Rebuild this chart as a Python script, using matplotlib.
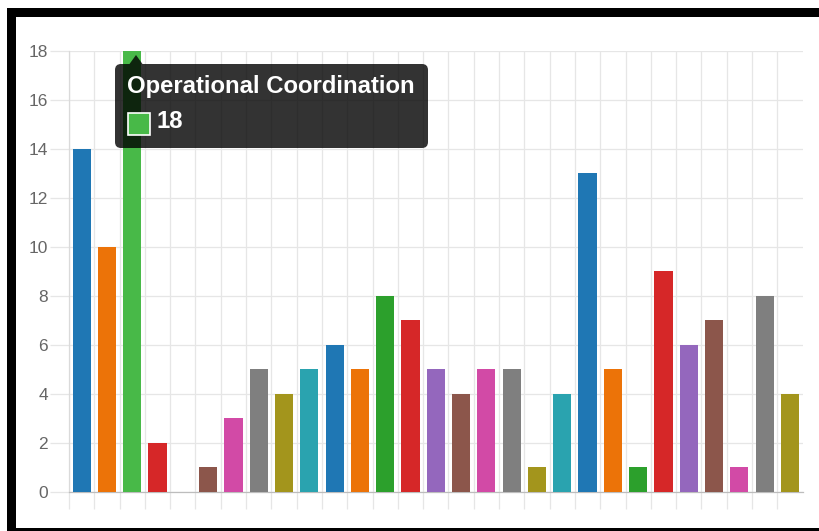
import numpy as np
import matplotlib
matplotlib.use('Agg')
import matplotlib.pyplot as plt
from matplotlib.patches import Rectangle, FancyBboxPatch, Polygon
from matplotlib.transforms import IdentityTransform

plt.rcParams['font.family'] = ['Liberation Sans', 'DejaVu Sans']

# bar values, one per category (the names are not shown on the axis)
values = [14, 10, 18, 2, 0, 1, 3, 5, 4, 5, 6, 5, 8, 7, 5, 4, 5, 5, 1, 4,
          13, 5, 1, 9, 6, 7, 1, 8, 4]
palette = ['#1f77b4', '#ec7308', '#2ca02c', '#d62728', '#9467bd',
           '#8c564b', '#d24aa6', '#7f7f7f', '#a3951c', '#2aa3af']
hover_idx = 2
hover_color = '#48b948'
tooltip_title = 'Operational Coordination'
yticks = [0, 2, 4, 6, 8, 10, 12, 14, 16, 18]

W, H = 819, 531
fig = plt.figure(figsize=(W / 100, H / 100), dpi=100)
fig.patch.set_facecolor('white')

def px(x0, y0, x1, y1):
    # image pixel box (top-left origin) -> figure fraction rect
    return [x0 / W, 1 - y1 / H, (x1 - x0) / W, (y1 - y0) / H]

ax = fig.add_axes(px(69, 50.5, 802.6, 492))

x = np.arange(len(values))
colors = [palette[i % len(palette)] for i in range(len(values))]
colors[hover_idx] = hover_color
ax.bar(x, values, width=0.72, color=colors, zorder=3)

ax.set_xlim(-0.5, len(values) - 0.5)
ax.set_ylim(0, 18)
ax.set_yticks(yticks)
ax.set_xticks(np.arange(len(values)) - 0.5)
ax.set_xticklabels([])

grid_c = '#e6e6e6'
ax.grid(True, color=grid_c, linewidth=0.9, zorder=0)
ax.tick_params(axis='y', length=13.7, width=0.9, color=grid_c, pad=1.5,
               labelsize=12.5, labelcolor='#666666')
ax.tick_params(axis='x', length=12.5, width=0.9, color=grid_c)
for s in ['top', 'right']:
    ax.spines[s].set_visible(False)
ax.spines['left'].set_color('#dadada')
ax.spines['left'].set_linewidth(0.9)
ax.spines['bottom'].set_color('#bdbdbd')
ax.spines['bottom'].set_linewidth(0.9)

# tooltip, drawn in pixel space
ident = IdentityTransform()
def fy(y):
    return H - y

box = FancyBboxPatch((115, fy(148)), 313, 84,
                     boxstyle='round,pad=0,rounding_size=6',
                     facecolor='black', alpha=0.8, edgecolor='none',
                     transform=ident, zorder=10)
fig.add_artist(box)
caret = Polygon([(129.5, fy(64)), (136, fy(55)), (142.5, fy(64))],
                closed=True, facecolor='black', alpha=0.8, edgecolor='none',
                transform=ident, zorder=10)
fig.add_artist(caret)
fig.text(127, fy(93), tooltip_title, transform=ident, color='white',
         fontsize=17.2, fontweight='bold', va='baseline', ha='left', zorder=11)
sq = Rectangle((128, fy(134.5)), 22, 22, facecolor=hover_color,
               edgecolor='white', linewidth=1.2, transform=ident, zorder=11)
fig.add_artist(sq)
fig.text(157, fy(128.5), str(values[hover_idx]), transform=ident, color='white',
         fontsize=17.2, fontweight='bold', va='baseline', ha='left', zorder=11)

# black frame around the screenshot
for (x0, y0, x1, y1) in [(7, 8, 819, 16.5), (7, 8, 16, 531), (7, 527.5, 819, 531)]:
    fig.add_artist(Rectangle((x0, fy(y1)), x1 - x0, y1 - y0, facecolor='black',
                             edgecolor='none', transform=ident, zorder=12))

fig.savefig('out.png', dpi=100)
